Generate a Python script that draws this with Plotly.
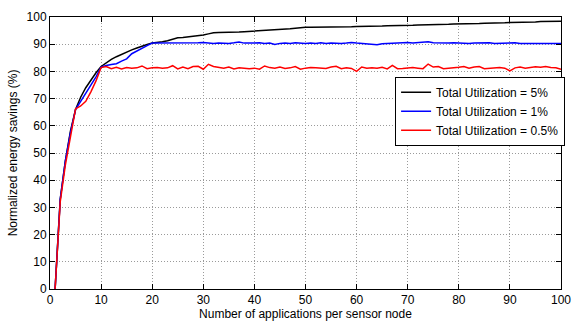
import plotly.graph_objects as go

n_apps = list(range(1, 101))

util_5 = [0, 33, 47, 58, 66, 70.5, 74, 77, 79.5, 81.8,
          83.2, 84.4, 85.4, 86.3, 87.2, 87.9, 88.6, 89.3, 89.9, 90.4,
          90.6, 90.9, 91.3, 91.9, 92.4, 92.5, 92.7, 92.9, 93.1, 93.4,
          93.8, 94.2, 94.3, 94.3, 94.4, 94.5, 94.5, 94.6, 94.7, 94.8,
          94.9, 95.0, 95.1, 95.2, 95.3, 95.5, 95.7, 95.9, 96.1, 96.2,
          96.2, 96.2, 96.3, 96.3, 96.3, 96.3, 96.4, 96.4, 96.4, 96.5,
          96.5, 96.6, 96.6, 96.7, 96.7, 96.8, 96.8, 96.9, 96.9, 97.0,
          97.0, 97.1, 97.1, 97.2, 97.2, 97.2, 97.3, 97.3, 97.4, 97.4,
          97.5, 97.5, 97.6, 97.6, 97.7, 97.7, 97.8, 97.9, 97.9, 98.0,
          98.0, 98.1, 98.1, 98.2, 98.2, 98.3, 98.3, 98.3, 98.4, 98.4]

util_1 = [0, 33, 47, 57.5, 66, 69, 72, 75, 78, 81.6,
          82.2, 82.5, 82.8, 83.8, 84.6, 86.5, 87.6, 88.6, 89.5, 90.4,
          90.4, 90.3, 90.4, 90.3, 90.4, 90.3, 90.4, 90.4, 90.5, 90.6,
          90.4, 90.3, 90.4, 90.3, 90.3, 90.5, 90.8, 90.4, 90.5, 90.4,
          90.5, 90.3, 90.4, 89.9, 90.3, 90.4, 90.3, 90.5, 90.3, 90.3,
          90.4, 90.3, 90.5, 90.3, 90.4, 90.3, 90.3, 90.4, 90.6, 90.4,
          90.3, 90.2, 90.0, 89.8, 90.2, 90.3, 90.4, 90.3, 90.5, 90.6,
          90.4, 90.5, 90.6, 90.9, 90.5, 90.4, 90.3, 90.4, 90.5, 90.4,
          90.3, 90.3, 90.4, 90.4, 90.6, 90.5, 90.3, 90.4, 90.4, 90.6,
          90.5, 90.3, 90.4, 90.3, 90.3, 90.4, 90.3, 90.3, 90.4, 90.3]

util_05 = [0, 32, 45.5, 56.5, 66.2, 67.3, 69, 72.5, 76.5, 81.4,
           81.8, 81.0, 81.5, 80.9, 81.4, 81.2, 81.3, 82.0, 81.0, 81.3,
           81.4, 81.2, 81.3, 82.1, 80.9, 81.6, 81.0, 81.8, 81.9, 80.8,
           82.6, 81.8, 81.5, 81.2, 81.6, 80.9, 81.3, 81.1, 81.0, 81.2,
           80.8, 82.0, 81.4, 81.2, 81.6, 81.1, 81.3, 81.8, 80.8, 81.2,
           81.4, 81.3, 81.2, 81.1, 81.6, 81.9, 81.0, 81.3, 81.1, 80.0,
           81.6, 81.2, 81.3, 81.2, 81.5, 80.9, 82.2, 81.0, 81.1, 81.3,
           81.4, 81.2, 81.0, 82.7, 81.6, 81.8, 81.0, 81.2, 81.3, 81.5,
           81.8, 81.2, 81.6, 81.8, 81.0, 81.1, 81.3, 81.4, 81.2, 80.2,
           81.3, 81.6, 81.2, 81.4, 81.7, 81.5, 81.8, 81.4, 81.3, 80.8]

series_names = ["Total Utilization = 5%", "Total Utilization = 1%", "Total Utilization = 0.5%"]
series_colors = ["#000000", "#0000ff", "#ff0000"]

x_ticks = list(range(0, 101, 10))
y_ticks = list(range(0, 101, 10))

fig = go.Figure()
for name, ys, col in zip(series_names, [util_5, util_1, util_05], series_colors):
    fig.add_trace(go.Scatter(x=n_apps, y=ys, mode="lines", name=name,
                             line=dict(color=col, width=1.5)))

axis_common = dict(
    showline=True, linecolor="black", linewidth=1, mirror="ticks",
    ticks="inside", ticklen=5, tickcolor="black",
    showgrid=True, gridcolor="#9a9a9a", griddash="1px,2px", gridwidth=1,
    zeroline=False, tickfont=dict(size=12, color="black"),
)

fig.update_xaxes(range=[0, 100], tickvals=x_ticks,
                 title=dict(text="Number of applications per sensor node", font=dict(size=12, color="black"), standoff=2),
                 **axis_common)
fig.update_yaxes(range=[0, 100], tickvals=y_ticks,
                 title=dict(text="Normalized energy savings (%)", font=dict(size=12, color="black"), standoff=6),
                 **axis_common)

fig.update_layout(
    width=581, height=328,
    margin=dict(l=50, r=12, t=10, b=32),
    paper_bgcolor="white", plot_bgcolor="white",
    font=dict(family="Liberation Sans, Arial, sans-serif", size=12, color="black"),
    legend=dict(x=1.008, y=0.78, xanchor="right", yanchor="top",
                bgcolor="white", bordercolor="black", borderwidth=1,
                font=dict(size=12), tracegroupgap=0),
)

fig.write_html("out.html", config={"displayModeBar": False},
               post_script="document.body.style.margin='0';")
